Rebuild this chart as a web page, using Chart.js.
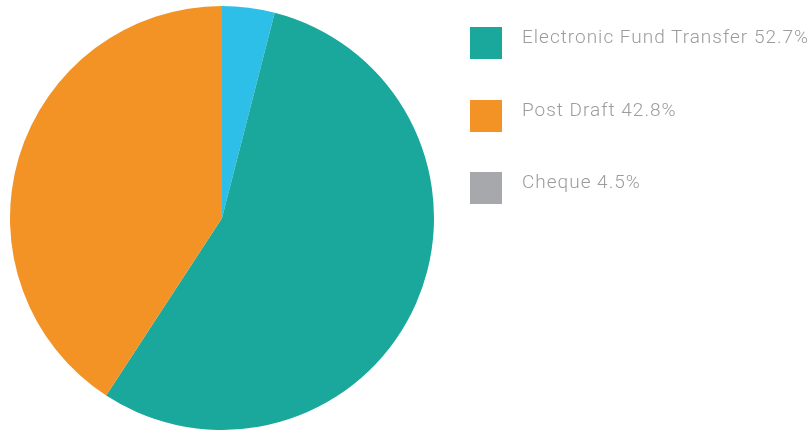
<!DOCTYPE html>
<html>
<head>
<meta charset="utf-8">
<script src="https://cdn.jsdelivr.net/npm/chart.js@4"></script>
<style>
  body { margin: 0; background: #fff; }
  #wrap { position: relative; width: 812px; height: 432px; }
  #legend { position: absolute; left: 470px; top: 27px; font-family: Roboto, sans-serif; font-weight: 300; font-size: 19px; letter-spacing: 1px; color: #9c9c9c; }
  .item { display: flex; align-items: flex-start; height: 72.5px; }
  .swatch { width: 32px; height: 32px; margin-right: 20px; }
  .txt { line-height: 19px; white-space: nowrap; }
</style>
</head>
<body>
<div id="wrap">
  <canvas id="pie" width="812" height="432"></canvas>
  <div id="legend"></div>
</div>
<script>
// slice data, clockwise from 12 o'clock (sizes)
const sliceNames = ['Cheque', 'Electronic Fund Transfer', 'Post Draft'];
const sliceValues = [4.0, 55.2, 40.8];
const sliceColors = ['#2ebfe9', '#1aa89c', '#f39325'];

// legend as printed next to the chart
const legendLabels = ['Electronic Fund Transfer 52.7%', 'Post Draft 42.8%', 'Cheque 4.5%'];
const legendColors = ['#1aa89c', '#f39325', '#a7a8ab'];

document.addEventListener('DOMContentLoaded', function() {
    const ctx = document.getElementById('pie').getContext('2d');

    new Chart(ctx, {
        type: 'pie',
        data: {
            labels: sliceNames,
            datasets: [{
                data: sliceValues,
                backgroundColor: sliceColors,
                borderWidth: 0,
                hoverOffset: 0
            }]
        },
        options: {
            responsive: false,
            animation: false,
            layout: {
                padding: { top: 6, bottom: 2, left: 10, right: 378 }
            },
            plugins: {
                legend: { display: false },
                tooltip: { enabled: false }
            }
        }
    });

    // build the legend beside the pie
    const legend = document.getElementById('legend');
    legendLabels.forEach((label, i) => {
        const item = document.createElement('div');
        item.className = 'item';
        const swatch = document.createElement('div');
        swatch.className = 'swatch';
        swatch.style.background = legendColors[i];
        const txt = document.createElement('span');
        txt.className = 'txt';
        txt.textContent = label;
        item.appendChild(swatch);
        item.appendChild(txt);
        legend.appendChild(item);
    });
});
</script>
</body>
</html>
